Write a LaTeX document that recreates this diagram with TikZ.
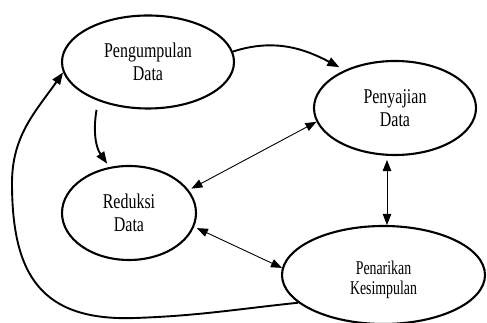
\documentclass[tikz,border=0pt]{standalone}
\usepackage{fontspec}
\setmainfont{Liberation Serif}[FakeStretch=0.76]
\newfontfamily\narrowfont{Liberation Serif}[FakeStretch=0.71]
\usetikzlibrary{shapes.geometric,arrows.meta}
\begin{document}
\begin{tikzpicture}[x=1pt,y=1pt,
  bubble/.style={ellipse,draw,line width=2.1pt,inner sep=0pt,align=center,font=\fontsize{21}{23.5}\selectfont},
  thickarrow/.style={line width=1.9pt,-{Triangle[length=12pt,width=9pt]}},
  thinarrow/.style={line width=0.9pt,{Triangle[length=11pt,width=8.5pt]}-{Triangle[length=11pt,width=8.5pt]}},
  smalltext/.style={font=\narrowfont\fontsize{19.5}{20.5}\selectfont,align=center,inner sep=0pt}]
\useasboundingbox (0,0) rectangle (487,323);
\node[bubble,minimum width=172pt,minimum height=93pt] (peng) at (148,261) {Pengumpulan\\Data};
\node[bubble,minimum width=162pt,minimum height=94pt] (peny) at (395,215) {Penyajian\\Data};
\node[bubble,minimum width=134pt,minimum height=94pt] (redu) at (129,110) {Reduksi\\Data};
\node[bubble,minimum width=203pt,minimum height=98pt] (pena) at (383.5,48) {};
\node[smalltext] (penatext) at ([yshift=-5pt]pena.center) {Penarikan\\Kesimpulan};
\coordinate (c1) at (135,5);
\coordinate (c2) at (12,140);
\draw[thickarrow,shorten >=6pt] (peng.7) to[out=18,in=152] (peny.143);
\draw[thickarrow,shorten <=9pt,shorten >=4pt] (peng.218) to[out=-100,in=125] (redu.113);
\draw[thinarrow,shorten <=3pt] (redu.21) -- (peny.190);
\draw[thinarrow,shorten <=4pt] ([xshift=-8pt]peny.south) -- ([xshift=-8pt]peny.south |- pena.north);
\draw[thinarrow,shorten <=3pt] (redu.-12) -- (pena.176);
\draw[thickarrow] (pena.198) to[out=186,in=2] (c1) to[out=182,in=-90,looseness=1.3] (c2) to[out=90,in=235] (peng.187);
\end{tikzpicture}
\end{document}
